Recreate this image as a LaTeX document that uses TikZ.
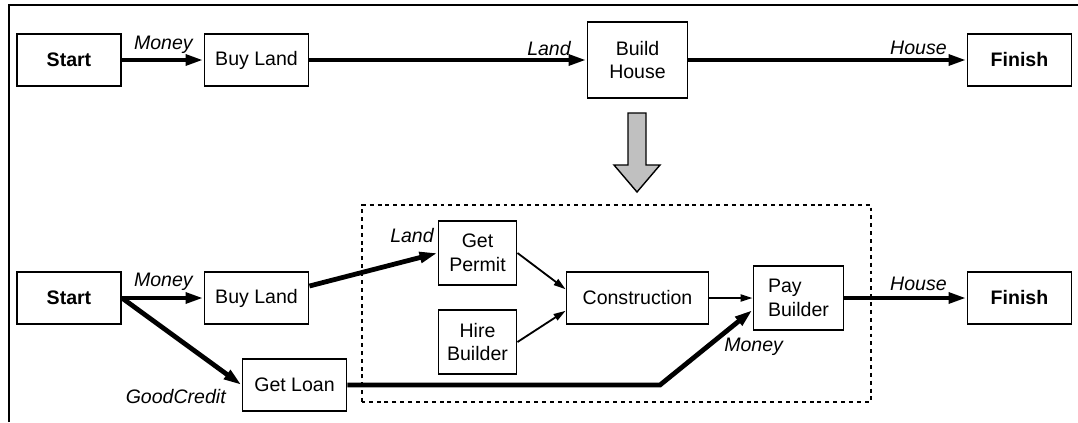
\documentclass[tikz,border=0pt]{standalone}
\usepackage{fontspec}
\setmainfont{Liberation Sans}
\usetikzlibrary{arrows.meta, calc}
\definecolor{inkgray}{HTML}{C0C0C0}
\newcommand{\flowfont}{\fontsize{13.9}{17}\selectfont}
\tikzset{
  taskbox/.style={draw, line width=1.4pt, fill=white, inner sep=0pt, align=center,
    minimum width=2.6cm, minimum height=1.3cm},
  thickflow/.style={-{Triangle[length=4.5mm, width=2.6mm]}, line width=3.4pt},
  thinflow/.style={-{Triangle[length=3mm, width=1.8mm]}, line width=1.3pt},
  flowlabel/.style={font=\flowfont\itshape, inner sep=0pt},
}
\newcommand{\taskbox}[4][]{%
  \node[taskbox, #1] (#2) at (#3) {#4};}

\begin{document}
\begin{tikzpicture}[font=\flowfont]
      \useasboundingbox (0,0) rectangle (26.95,10.55);
      \draw[line width=1.8pt] (0.22,0) -- (0.22,10.425) -- (26.95,10.425);
      \draw[line width=1.3pt, dash pattern=on 2.8pt off 2.8pt] (9.05,0.5) rectangle (21.775,5.425);
      \taskbox{start1}{1.725,9.05}{\textbf{Start}}
      \taskbox{buy1}{6.4125,9.05}{Buy Land}
      \taskbox[minimum width=2.5cm, minimum height=1.9cm]{build}{15.9375,9.05}{Build\\House}
      \taskbox{finish1}{25.4875,9.05}{\textbf{Finish}}
      \taskbox{start2}{1.725,3.1}{\textbf{Start}}
      \taskbox{buy2}{6.4125,3.1}{Buy Land}
      \taskbox{loan}{7.3625,0.925}{Get Loan}
      \taskbox[minimum width=1.95cm, minimum height=1.6cm]{permit}{11.9375,4.225}{Get\\Permit}
      \taskbox[minimum width=1.95cm, minimum height=1.6cm]{hire}{11.9375,2.0}{Hire\\Builder}
      \taskbox[minimum width=3.55cm]{construct}{15.9375,3.1}{Construction}
      \taskbox[minimum width=2.25cm, minimum height=1.6cm, align=left]{pay}{19.9625,3.1}{Pay\\Builder}
      \taskbox{finish2}{25.4875,3.1}{\textbf{Finish}}
      \coordinate (bend) at (16.5,0.925);
      \draw[fill=inkgray, line width=1pt] (15.7,7.725) -- (16.15,7.725) -- (16.15,6.425)
        -- (16.5,6.425) -- (15.925,5.75) -- (15.35,6.425) -- (15.7,6.425) -- cycle;
      \draw[thickflow] (start1.east) -- (buy1.west);
      \draw[thickflow] (buy1.east) -- (build.west);
      \draw[thickflow] (build.east) -- (finish1.west);
      \draw[thickflow] (start2.east) -- (buy2.west);
      \draw[thickflow] (start2.east) -- (loan.west);
      \draw[thickflow] ([yshift=3mm]buy2.east) -- (permit.west);
      \draw[thinflow] (permit.east) -- ([yshift=2.2mm]construct.west);
      \draw[thinflow] (hire.east) -- ([yshift=-3.2mm]construct.west);
      \draw[thinflow] (construct.east) -- (pay.west);
      \draw[thickflow] (loan.east) -- (bend) -- ([yshift=-3mm]pay.west);
      \draw[thickflow] (pay.east) -- (finish2.west);
      \node[flowlabel, anchor=base east] (money1) at (4.825,9.325) {Money};
      \node[flowlabel, anchor=base east] (land1) at (14.275,9.175) {Land};
      \node[flowlabel, anchor=base east] (house1) at (23.675,9.2) {House};
      \node[flowlabel, anchor=base east] (money2) at (4.825,3.4) {Money};
      \node[flowlabel, anchor=base east] (credit) at (5.65,0.475) {GoodCredit};
      \node[flowlabel, anchor=base east] (land2) at (10.85,4.5) {Land};
      \node[flowlabel, anchor=base west] (money3) at (18.1,1.775) {Money};
      \node[flowlabel, anchor=base east] (house2) at (23.675,3.3) {House};
    \end{tikzpicture}
\end{document}
